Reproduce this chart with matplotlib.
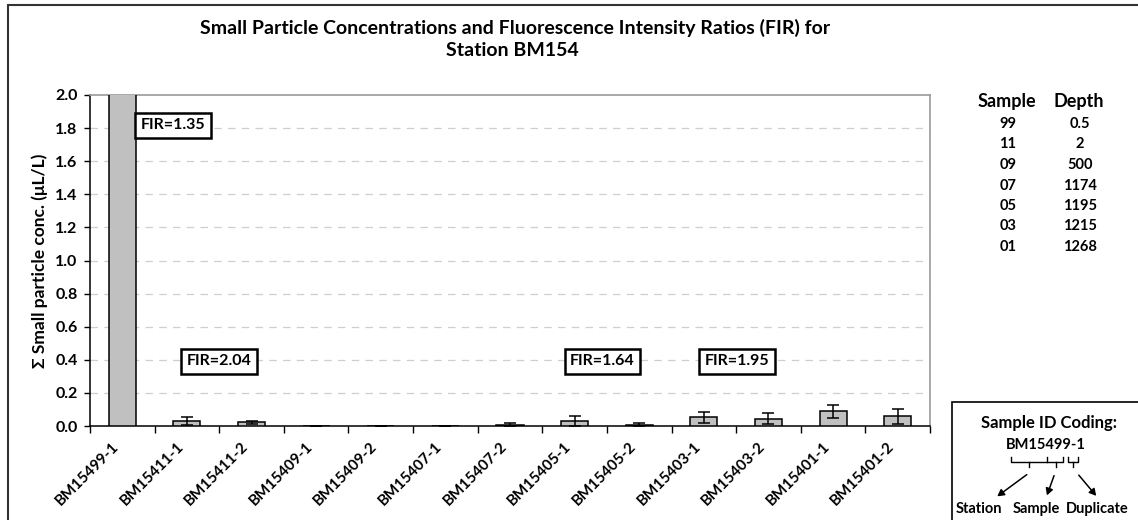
import matplotlib
matplotlib.use("Agg")
import matplotlib.pyplot as plt
from matplotlib.patches import Rectangle, FancyArrowPatch
from matplotlib.lines import Line2D

plt.rcParams['font.family'] = ['Lato', 'DejaVu Sans']
plt.rcParams['font.weight'] = 'bold'

# ---- data ----
samples = ["BM15499-1", "BM15411-1", "BM15411-2", "BM15409-1", "BM15409-2",
           "BM15407-1", "BM15407-2", "BM15405-1", "BM15405-2", "BM15403-1",
           "BM15403-2", "BM15401-1", "BM15401-2"]
conc = [2.9, 0.030, 0.022, 0.0, 0.003, 0.003, 0.006, 0.029, 0.006, 0.052,
        0.043, 0.088, 0.060]
conc_err = [0.0, 0.022, 0.010, 0.0, 0.0, 0.0, 0.012, 0.029, 0.012, 0.034,
            0.033, 0.041, 0.045]
fir_labels = ["FIR=1.35", "FIR=2.04", "FIR=1.64", "FIR=1.95"]
table_sample = ["99", "11", "09", "07", "05", "03", "01"]
table_depth = ["0.5", "2", "500", "1174", "1195", "1215", "1268"]
yticks = [0.0, 0.2, 0.4, 0.6, 0.8, 1.0, 1.2, 1.4, 1.6, 1.8, 2.0]

W, H = 1138, 520
fig = plt.figure(figsize=(W / 100, H / 100), dpi=100)

def fx(x):
    return x / W

def fy(y):
    return 1 - y / H

ax = fig.add_axes([fx(90), fy(426), (930 - 90) / W, (426 - 95) / H])

x = list(range(len(samples)))
ax.bar(x, conc, width=0.42, color="#c0c0c0", edgecolor="black", linewidth=1.1,
       zorder=3)
ax.errorbar(x, conc, yerr=conc_err, fmt="none", ecolor="black", elinewidth=1.1,
            capsize=4, capthick=1.1, zorder=4)

ax.set_xlim(-0.5, len(samples) - 0.5)
ax.set_ylim(0, 2.0)
ax.set_yticks(yticks)
ax.set_yticklabels([f"{v:.1f}" for v in yticks], fontsize=11.5, fontweight="bold")
ax.tick_params(axis="y", direction="out", length=4, width=1, pad=5)

# x ticks at category boundaries, labels drawn separately
ax.set_xticks([i - 0.5 for i in range(len(samples) + 1)])
ax.set_xticklabels([])
ax.tick_params(axis="x", direction="out", length=5, width=1)
for i, s in enumerate(samples):
    ax.annotate(s, xy=(i, 0), xycoords=("data", "axes fraction"),
                xytext=(-4, -13), textcoords="offset points",
                rotation=45, ha="right", va="center", rotation_mode="anchor",
                fontsize=11, fontweight="bold")

for yv in yticks[1:-1]:
    ax.axhline(yv, color="#cfcfcf", linewidth=0.9, linestyle=(0, (6, 5)), zorder=1)

for side in ["top", "right"]:
    ax.spines[side].set_color("#9a9a9a")
    ax.spines[side].set_linewidth(1.2)
for side in ["left", "bottom"]:
    ax.spines[side].set_color("black")
    ax.spines[side].set_linewidth(1.1)

ax.set_ylabel("\u03a3 Small particle conc. (\u03bcL/L)", fontsize=12.5,
              fontweight="bold", labelpad=5)

# FIR boxes
fir_pos = [(0.0988, 0.908), (0.1536, 0.195), (0.6101, 0.195), (0.7702, 0.195)]
for lab, (px, py) in zip(fir_labels, fir_pos):
    ax.text(px, py, lab, transform=ax.transAxes, ha="center", va="center",
            fontsize=11.5, fontweight="bold", zorder=6,
            bbox=dict(boxstyle="square,pad=0.35", facecolor="white",
                      edgecolor="black", linewidth=1.8))

# title
fig.text(fx(515), fy(28), "Small Particle Concentrations and Fluorescence Intensity Ratios (FIR) for",
         ha="center", va="center", fontsize=14, fontweight="bold")
fig.text(fx(512), fy(51), "Station BM154", ha="center", va="center",
         fontsize=14, fontweight="bold")

# outer frame
fig.add_artist(Rectangle((fx(7.5), -0.1), 1.2, fy(5) + 0.1,
                         transform=fig.transFigure, fill=False,
                         edgecolor="#333333", linewidth=1.5))

# sample / depth table
fig.text(fx(1007), fy(101), "Sample", ha="center", va="center", fontsize=13,
         fontweight="bold")
fig.text(fx(1079), fy(101), "Depth", ha="center", va="center", fontsize=13,
         fontweight="bold")
for k, (s, d) in enumerate(zip(table_sample, table_depth)):
    yy = 124 + 20.5 * k
    fig.text(fx(1008), fy(yy), s, ha="center", va="center", fontsize=10.5,
             fontweight="bold")
    fig.text(fx(1080), fy(yy), d, ha="center", va="center", fontsize=10.5,
             fontweight="bold")

# sample ID coding box
fig.add_artist(Rectangle((fx(952), -0.1), 0.3, fy(402) + 0.1,
                         transform=fig.transFigure, fill=False,
                         edgecolor="black", linewidth=1.2))
fig.text(fx(1049), fy(423), "Sample ID Coding:", ha="center", va="center",
         fontsize=12, fontweight="bold")
fig.text(fx(1046), fy(445), "BM15499-1", ha="center", va="center",
         fontsize=10.5, fontweight="bold")

def fline(xs, ys, lw=1.0):
    fig.add_artist(Line2D([fx(v) for v in xs], [fy(v) for v in ys],
                          transform=fig.transFigure, color="black", linewidth=lw))

# brackets
yb = 462
fline([1011, 1011, 1063, 1063], [457, yb, yb, 457])
fline([1047, 1047], [yb, 457])
fline([1029, 1029], [yb, 467])
fline([1056, 1056], [yb, 467])
fline([1068, 1068, 1078, 1078], [457, yb, yb, 457])
fline([1073, 1073], [yb, 467])

for (x0, y0, x1, y1) in [(1029, 473, 995, 498), (1055, 473, 1046, 498),
                         (1077, 473, 1098, 498)]:
    fig.add_artist(FancyArrowPatch((fx(x0), fy(y0)), (fx(x1), fy(y1)),
                                   transform=fig.transFigure,
                                   arrowstyle="-|>,head_length=4,head_width=2.2",
                                   color="black", linewidth=1.1))

fig.text(fx(979), fy(509), "Station", ha="center", va="center", fontsize=10.5,
         fontweight="bold")
fig.text(fx(1036), fy(509), "Sample", ha="center", va="center", fontsize=10.5,
         fontweight="bold")
fig.text(fx(1097), fy(509), "Duplicate", ha="center", va="center", fontsize=10.5,
         fontweight="bold")

fig.savefig("out.png", dpi=100, facecolor="white")
